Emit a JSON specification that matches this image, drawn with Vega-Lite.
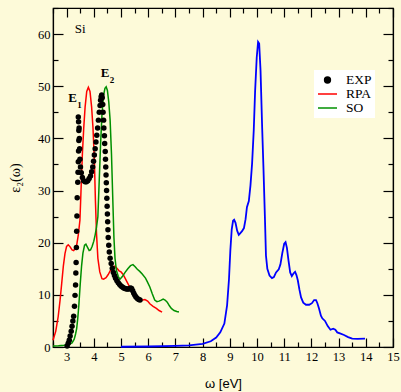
{
  "$schema": "https://vega.github.io/schema/vega-lite/v6.json",
  "width": 340,
  "height": 339,
  "autosize": {"type": "none"},
  "padding": {"left": 53, "top": 8, "right": 8, "bottom": 45},
  "background": "#fdfad9",
  "config": {
    "view": {"stroke": "black", "strokeWidth": 1.2, "fill": "#fdfad9"},
    "axis": {
      "domainColor": "black", "domainWidth": 1.2, "tickColor": "black", "tickWidth": 1.2,
      "labelColor": "black", "titleColor": "black", "grid": false,
      "labelFont": "Liberation Serif", "labelFontSize": 12.5, "titleFontWeight": "normal"
    }
  },
  "datasets": {
    "blue": [
      {"x": 5.0, "y": 0.05}, {"x": 6.0, "y": 0.1}, {"x": 7.0, "y": 0.2}, {"x": 7.5, "y": 0.3}, {"x": 8.0, "y": 0.6},
      {"x": 8.3, "y": 1.1}, {"x": 8.5, "y": 1.8}, {"x": 8.65, "y": 2.8}, {"x": 8.8, "y": 4.5}, {"x": 8.9, "y": 8},
      {"x": 8.97, "y": 13}, {"x": 9.02, "y": 18.5}, {"x": 9.07, "y": 22.5}, {"x": 9.12, "y": 24.2}, {"x": 9.16, "y": 24.4},
      {"x": 9.21, "y": 23.8}, {"x": 9.27, "y": 22.3}, {"x": 9.33, "y": 21.5}, {"x": 9.38, "y": 21.8}, {"x": 9.45, "y": 22.2},
      {"x": 9.52, "y": 22.8}, {"x": 9.58, "y": 24.5}, {"x": 9.63, "y": 26.8}, {"x": 9.7, "y": 28.0}, {"x": 9.76, "y": 31},
      {"x": 9.82, "y": 35.2}, {"x": 9.88, "y": 41.5}, {"x": 9.93, "y": 49}, {"x": 9.99, "y": 55.5}, {"x": 10.04, "y": 58.5},
      {"x": 10.08, "y": 58.2}, {"x": 10.13, "y": 53}, {"x": 10.19, "y": 42}, {"x": 10.24, "y": 33.9}, {"x": 10.29, "y": 25},
      {"x": 10.33, "y": 17.5}, {"x": 10.38, "y": 15}, {"x": 10.46, "y": 13.7}, {"x": 10.55, "y": 13.2}, {"x": 10.62, "y": 13.4},
      {"x": 10.7, "y": 14.3}, {"x": 10.8, "y": 14.9}, {"x": 10.86, "y": 15.8}, {"x": 10.93, "y": 18}, {"x": 11.0, "y": 19.8},
      {"x": 11.05, "y": 20.1}, {"x": 11.1, "y": 19}, {"x": 11.16, "y": 16.5}, {"x": 11.22, "y": 14.3}, {"x": 11.28, "y": 13.6},
      {"x": 11.34, "y": 14.1}, {"x": 11.4, "y": 14.4}, {"x": 11.45, "y": 13.8}, {"x": 11.5, "y": 12.8}, {"x": 11.56, "y": 11.0},
      {"x": 11.62, "y": 9.5}, {"x": 11.7, "y": 8.5}, {"x": 11.8, "y": 8.1}, {"x": 11.92, "y": 8.1}, {"x": 12.02, "y": 8.4},
      {"x": 12.1, "y": 9.0}, {"x": 12.17, "y": 9.0}, {"x": 12.22, "y": 8.4}, {"x": 12.28, "y": 7.4}, {"x": 12.35, "y": 6.0},
      {"x": 12.4, "y": 5.5}, {"x": 12.5, "y": 5.0}, {"x": 12.6, "y": 4.0}, {"x": 12.7, "y": 3.3}, {"x": 12.8, "y": 3.5},
      {"x": 12.88, "y": 3.3}, {"x": 12.95, "y": 2.8}, {"x": 13.05, "y": 2.6}, {"x": 13.2, "y": 2.3}, {"x": 13.35, "y": 1.9},
      {"x": 13.5, "y": 1.6}, {"x": 13.7, "y": 1.55}, {"x": 13.97, "y": 1.6}
    ],
    "theory": [
      {"series": "RPA", "x": 2.5, "y": 1.3}, {"series": "RPA", "x": 2.6, "y": 3}, {"series": "RPA", "x": 2.69, "y": 5.8},
      {"series": "RPA", "x": 2.76, "y": 9}, {"series": "RPA", "x": 2.82, "y": 12.2}, {"series": "RPA", "x": 2.88, "y": 15.5},
      {"series": "RPA", "x": 2.94, "y": 17.9}, {"series": "RPA", "x": 3.0, "y": 19.3}, {"series": "RPA", "x": 3.06, "y": 19.6},
      {"series": "RPA", "x": 3.13, "y": 19.2}, {"series": "RPA", "x": 3.2, "y": 18.6}, {"series": "RPA", "x": 3.26, "y": 18.5},
      {"series": "RPA", "x": 3.32, "y": 18.9}, {"series": "RPA", "x": 3.37, "y": 19.5}, {"series": "RPA", "x": 3.43, "y": 21.5},
      {"series": "RPA", "x": 3.49, "y": 24.3}, {"series": "RPA", "x": 3.53, "y": 30}, {"series": "RPA", "x": 3.58, "y": 37},
      {"series": "RPA", "x": 3.63, "y": 42}, {"series": "RPA", "x": 3.68, "y": 46}, {"series": "RPA", "x": 3.74, "y": 49},
      {"series": "RPA", "x": 3.8, "y": 49.8}, {"series": "RPA", "x": 3.86, "y": 49}, {"series": "RPA", "x": 3.92, "y": 46},
      {"series": "RPA", "x": 3.97, "y": 42}, {"series": "RPA", "x": 4.02, "y": 36}, {"series": "RPA", "x": 4.06, "y": 28},
      {"series": "RPA", "x": 4.1, "y": 21.7}, {"series": "RPA", "x": 4.15, "y": 17}, {"series": "RPA", "x": 4.22, "y": 14.4},
      {"series": "RPA", "x": 4.3, "y": 13.1}, {"series": "RPA", "x": 4.36, "y": 13}, {"series": "RPA", "x": 4.45, "y": 13.3},
      {"series": "RPA", "x": 4.53, "y": 13.9}, {"series": "RPA", "x": 4.62, "y": 14.8}, {"series": "RPA", "x": 4.7, "y": 15.3},
      {"series": "RPA", "x": 4.77, "y": 15.5}, {"series": "RPA", "x": 4.85, "y": 15.1}, {"series": "RPA", "x": 4.93, "y": 14.6},
      {"series": "RPA", "x": 5.0, "y": 14.4}, {"series": "RPA", "x": 5.08, "y": 13.9}, {"series": "RPA", "x": 5.14, "y": 13.3},
      {"series": "RPA", "x": 5.23, "y": 12.4}, {"series": "RPA", "x": 5.32, "y": 11.5}, {"series": "RPA", "x": 5.4, "y": 10.5},
      {"series": "RPA", "x": 5.5, "y": 9.6}, {"series": "RPA", "x": 5.6, "y": 9.0}, {"series": "RPA", "x": 5.69, "y": 8.9},
      {"series": "RPA", "x": 5.8, "y": 9.0}, {"series": "RPA", "x": 5.88, "y": 9.1}, {"series": "RPA", "x": 5.98, "y": 8.8},
      {"series": "RPA", "x": 6.06, "y": 8.3}, {"series": "RPA", "x": 6.18, "y": 7.8}, {"series": "RPA", "x": 6.3, "y": 7.4},
      {"series": "RPA", "x": 6.4, "y": 7.0}, {"series": "RPA", "x": 6.51, "y": 6.7},
      {"series": "SO", "x": 2.5, "y": 0.2}, {"series": "SO", "x": 2.7, "y": 0.25}, {"series": "SO", "x": 2.9, "y": 0.35},
      {"series": "SO", "x": 3.1, "y": 0.5}, {"series": "SO", "x": 3.2, "y": 0.8}, {"series": "SO", "x": 3.28, "y": 1.5},
      {"series": "SO", "x": 3.33, "y": 2.5}, {"series": "SO", "x": 3.37, "y": 3.5}, {"series": "SO", "x": 3.41, "y": 5.5},
      {"series": "SO", "x": 3.45, "y": 8}, {"series": "SO", "x": 3.5, "y": 12}, {"series": "SO", "x": 3.55, "y": 15.5},
      {"series": "SO", "x": 3.6, "y": 18}, {"series": "SO", "x": 3.66, "y": 19.5}, {"series": "SO", "x": 3.71, "y": 19.7},
      {"series": "SO", "x": 3.77, "y": 19.1}, {"series": "SO", "x": 3.83, "y": 18.5}, {"series": "SO", "x": 3.88, "y": 18.6},
      {"series": "SO", "x": 3.94, "y": 19.3}, {"series": "SO", "x": 4.0, "y": 20.3}, {"series": "SO", "x": 4.05, "y": 21.5},
      {"series": "SO", "x": 4.1, "y": 23}, {"series": "SO", "x": 4.15, "y": 25}, {"series": "SO", "x": 4.2, "y": 32},
      {"series": "SO", "x": 4.25, "y": 39}, {"series": "SO", "x": 4.3, "y": 44.5}, {"series": "SO", "x": 4.35, "y": 48},
      {"series": "SO", "x": 4.41, "y": 49.6}, {"series": "SO", "x": 4.455, "y": 49.9}, {"series": "SO", "x": 4.5, "y": 49.2},
      {"series": "SO", "x": 4.55, "y": 47}, {"series": "SO", "x": 4.6, "y": 43.5}, {"series": "SO", "x": 4.65, "y": 37},
      {"series": "SO", "x": 4.7, "y": 28}, {"series": "SO", "x": 4.74, "y": 21}, {"series": "SO", "x": 4.78, "y": 17},
      {"series": "SO", "x": 4.83, "y": 14.7}, {"series": "SO", "x": 4.9, "y": 13.5}, {"series": "SO", "x": 4.96, "y": 13},
      {"series": "SO", "x": 5.05, "y": 13.5}, {"series": "SO", "x": 5.15, "y": 14.3}, {"series": "SO", "x": 5.25, "y": 15},
      {"series": "SO", "x": 5.35, "y": 15.6}, {"series": "SO", "x": 5.44, "y": 15.8}, {"series": "SO", "x": 5.52, "y": 15.4},
      {"series": "SO", "x": 5.6, "y": 14.9}, {"series": "SO", "x": 5.69, "y": 14.5}, {"series": "SO", "x": 5.78, "y": 14},
      {"series": "SO", "x": 5.9, "y": 13.2}, {"series": "SO", "x": 5.97, "y": 12.5}, {"series": "SO", "x": 6.06, "y": 11.5},
      {"series": "SO", "x": 6.15, "y": 10.2}, {"series": "SO", "x": 6.24, "y": 9.0}, {"series": "SO", "x": 6.32, "y": 8.7},
      {"series": "SO", "x": 6.4, "y": 8.8}, {"series": "SO", "x": 6.48, "y": 9.0}, {"series": "SO", "x": 6.55, "y": 9.2},
      {"series": "SO", "x": 6.62, "y": 9.0}, {"series": "SO", "x": 6.7, "y": 8.6}, {"series": "SO", "x": 6.78, "y": 7.9},
      {"series": "SO", "x": 6.85, "y": 7.4}, {"series": "SO", "x": 6.95, "y": 7.0}, {"series": "SO", "x": 7.05, "y": 6.8},
      {"series": "SO", "x": 7.13, "y": 6.7}
    ],
    "exp": [
      {"series": "EXP", "x": 3.02, "y": 0.2}, {"series": "EXP", "x": 3.06, "y": 0.7}, {"series": "EXP", "x": 3.1, "y": 1.3},
      {"series": "EXP", "x": 3.13, "y": 2.1}, {"series": "EXP", "x": 3.17, "y": 3.0}, {"series": "EXP", "x": 3.2, "y": 4.0},
      {"series": "EXP", "x": 3.23, "y": 5.0}, {"series": "EXP", "x": 3.26, "y": 5.9}, {"series": "EXP", "x": 3.29, "y": 7.8},
      {"series": "EXP", "x": 3.31, "y": 9.9}, {"series": "EXP", "x": 3.33, "y": 11.9}, {"series": "EXP", "x": 3.34, "y": 14.2},
      {"series": "EXP", "x": 3.35, "y": 16.2}, {"series": "EXP", "x": 3.36, "y": 19.1}, {"series": "EXP", "x": 3.37, "y": 22.2},
      {"series": "EXP", "x": 3.38, "y": 25.1}, {"series": "EXP", "x": 3.39, "y": 28.6}, {"series": "EXP", "x": 3.41, "y": 31.6},
      {"series": "EXP", "x": 3.42, "y": 33.5}, {"series": "EXP", "x": 3.43, "y": 35.5}, {"series": "EXP", "x": 3.44, "y": 37.6},
      {"series": "EXP", "x": 3.45, "y": 39.6}, {"series": "EXP", "x": 3.45, "y": 41.5}, {"series": "EXP", "x": 3.44, "y": 43.2},
      {"series": "EXP", "x": 3.43, "y": 44.1}, {"series": "EXP", "x": 3.46, "y": 42}, {"series": "EXP", "x": 3.47, "y": 40},
      {"series": "EXP", "x": 3.48, "y": 38}, {"series": "EXP", "x": 3.49, "y": 36}, {"series": "EXP", "x": 3.51, "y": 34.5},
      {"series": "EXP", "x": 3.54, "y": 33.4}, {"series": "EXP", "x": 3.58, "y": 32.5}, {"series": "EXP", "x": 3.63, "y": 31.9},
      {"series": "EXP", "x": 3.68, "y": 31.7}, {"series": "EXP", "x": 3.73, "y": 31.7}, {"series": "EXP", "x": 3.78, "y": 31.9},
      {"series": "EXP", "x": 3.83, "y": 32.3}, {"series": "EXP", "x": 3.88, "y": 32.8}, {"series": "EXP", "x": 3.92, "y": 33.6},
      {"series": "EXP", "x": 3.96, "y": 34.5}, {"series": "EXP", "x": 3.99, "y": 35.6}, {"series": "EXP", "x": 4.02, "y": 36.8},
      {"series": "EXP", "x": 4.05, "y": 38.0}, {"series": "EXP", "x": 4.08, "y": 39.3}, {"series": "EXP", "x": 4.11, "y": 40.6},
      {"series": "EXP", "x": 4.14, "y": 42.0}, {"series": "EXP", "x": 4.17, "y": 43.5}, {"series": "EXP", "x": 4.2, "y": 45.0},
      {"series": "EXP", "x": 4.23, "y": 46.3}, {"series": "EXP", "x": 4.25, "y": 47.3}, {"series": "EXP", "x": 4.27, "y": 48.0},
      {"series": "EXP", "x": 4.29, "y": 48.3}, {"series": "EXP", "x": 4.31, "y": 47.8}, {"series": "EXP", "x": 4.33, "y": 46.5},
      {"series": "EXP", "x": 4.34, "y": 45}, {"series": "EXP", "x": 4.36, "y": 43.5}, {"series": "EXP", "x": 4.37, "y": 42},
      {"series": "EXP", "x": 4.39, "y": 40.5}, {"series": "EXP", "x": 4.4, "y": 39}, {"series": "EXP", "x": 4.42, "y": 37.5},
      {"series": "EXP", "x": 4.43, "y": 36}, {"series": "EXP", "x": 4.44, "y": 34.5}, {"series": "EXP", "x": 4.45, "y": 33},
      {"series": "EXP", "x": 4.46, "y": 31.5}, {"series": "EXP", "x": 4.47, "y": 30}, {"series": "EXP", "x": 4.48, "y": 28.5},
      {"series": "EXP", "x": 4.49, "y": 27}, {"series": "EXP", "x": 4.5, "y": 25.5}, {"series": "EXP", "x": 4.51, "y": 24},
      {"series": "EXP", "x": 4.52, "y": 22.5}, {"series": "EXP", "x": 4.53, "y": 21}, {"series": "EXP", "x": 4.55, "y": 19.5},
      {"series": "EXP", "x": 4.57, "y": 18.2}, {"series": "EXP", "x": 4.6, "y": 17}, {"series": "EXP", "x": 4.64, "y": 16},
      {"series": "EXP", "x": 4.68, "y": 15.1}, {"series": "EXP", "x": 4.72, "y": 14.3}, {"series": "EXP", "x": 4.76, "y": 13.7},
      {"series": "EXP", "x": 4.8, "y": 13.2}, {"series": "EXP", "x": 4.85, "y": 12.7}, {"series": "EXP", "x": 4.9, "y": 12.3},
      {"series": "EXP", "x": 4.95, "y": 12.0}, {"series": "EXP", "x": 5.0, "y": 11.7}, {"series": "EXP", "x": 5.05, "y": 11.5},
      {"series": "EXP", "x": 5.1, "y": 11.3}, {"series": "EXP", "x": 5.15, "y": 11.2}, {"series": "EXP", "x": 5.2, "y": 11.1},
      {"series": "EXP", "x": 5.25, "y": 11.1}, {"series": "EXP", "x": 5.3, "y": 11.1}, {"series": "EXP", "x": 5.35, "y": 11.3},
      {"series": "EXP", "x": 5.39, "y": 11.2}, {"series": "EXP", "x": 5.43, "y": 10.8}, {"series": "EXP", "x": 5.47, "y": 10.3},
      {"series": "EXP", "x": 5.51, "y": 9.9}, {"series": "EXP", "x": 5.55, "y": 9.6}, {"series": "EXP", "x": 5.6, "y": 9.3},
      {"series": "EXP", "x": 5.65, "y": 9.1}, {"series": "EXP", "x": 5.7, "y": 9.0}
    ],
    "notes": [
      {"text": "E", "sub": "1", "x": 3.06, "y": 47},
      {"text": "E", "sub": "2", "x": 4.26, "y": 51.8}
    ],
    "si": [
      {"text": "Si", "x": 3.3, "y": 60.3}
    ]
  },
  "layer": [
    {
      "data": {"name": "blue"},
      "mark": {"type": "line", "color": "#0000ff", "strokeWidth": 1.8},
      "encoding": {
        "x": {
          "field": "x", "type": "quantitative",
          "scale": {"domain": [2.5, 15], "nice": false, "zero": false},
          "axis": {
            "orient": "bottom", "title": "ω [eV]", "titleFont": "Liberation Sans", "titleFontSize": 13,
            "values": [2.5, 3, 3.5, 4, 4.5, 5, 5.5, 6, 6.5, 7, 7.5, 8, 8.5, 9, 9.5, 10, 10.5, 11, 11.5, 12, 12.5, 13, 13.5, 14, 14.5, 15],
            "labelExpr": "datum.value % 1 === 0 ? format(datum.value, 'd') : ''",
            "tickSize": {"condition": {"test": "datum.value % 1 === 0", "value": -9}, "value": -5},
            "labelPadding": 12, "titlePadding": 11, "labelFlush": false, "labelOverlap": false
          }
        },
        "y": {
          "field": "y", "type": "quantitative",
          "scale": {"domain": [0, 65], "nice": false, "zero": false},
          "axis": {
            "orient": "left", "title": "ε₂(ω)", "titleFont": "Liberation Serif", "titleFontSize": 14,
            "values": [0, 5, 10, 15, 20, 25, 30, 35, 40, 45, 50, 55, 60, 65],
            "labelExpr": "datum.value % 10 === 0 ? format(datum.value, 'd') : ''",
            "tickSize": {"condition": {"test": "datum.value % 10 === 0", "value": -10}, "value": -5},
            "labelPadding": 13, "titlePadding": 15, "labelFlush": false, "labelOverlap": false
          }
        }
      }
    },
    {
      "data": {"name": "theory"},
      "mark": {"type": "line", "strokeWidth": 1.5},
      "encoding": {
        "x": {
          "field": "x", "type": "quantitative",
          "scale": {"domain": [2.5, 15], "nice": false, "zero": false},
          "axis": {
            "orient": "top", "title": null, "labels": false,
            "values": [2.5, 3, 3.5, 4, 4.5, 5, 5.5, 6, 6.5, 7, 7.5, 8, 8.5, 9, 9.5, 10, 10.5, 11, 11.5, 12, 12.5, 13, 13.5, 14, 14.5, 15],
            "tickSize": {"condition": {"test": "datum.value % 1 === 0", "value": -9}, "value": -5}
          }
        },
        "y": {
          "field": "y", "type": "quantitative",
          "scale": {"domain": [0, 65], "nice": false, "zero": false},
          "axis": {
            "orient": "right", "title": null, "labels": false,
            "values": [0, 5, 10, 15, 20, 25, 30, 35, 40, 45, 50, 55, 60, 65],
            "tickSize": {"condition": {"test": "datum.value % 10 === 0", "value": -10}, "value": -5}
          }
        },
        "color": {
          "field": "series", "type": "nominal",
          "scale": {"domain": ["EXP", "RPA", "SO"], "range": ["#000000", "#ff0000", "#009000"]},
          "legend": {
            "orient": "none", "legendX": 261, "legendY": 62, "title": null,
            "fillColor": "#ffffff", "padding": 3, "clipHeight": 14, "rowPadding": 0,
            "labelFont": "Liberation Serif", "labelFontSize": 13.5, "labelColor": "#000000",
            "symbolType": "stroke", "symbolSize": 361, "symbolStrokeWidth": 1.5, "labelOffset": 8,
            "encode": {
              "symbols": {
                "update": {
                  "shape": {"signal": "datum.value === 'EXP' ? 'circle' : 'stroke'"},
                  "size": {"signal": "datum.value === 'EXP' ? 34 : 361"},
                  "fill": {"signal": "datum.value === 'EXP' ? '#000000' : 'transparent'"},
                  "stroke": {"signal": "datum.value === 'EXP' ? 'transparent' : (datum.value === 'RPA' ? '#ff0000' : '#009000')"},
                  "strokeWidth": {"value": 1.5},
                  "opacity": {"value": 1}
                }
              }
            }
          }
        }
      }
    },
    {
      "data": {"name": "exp"},
      "mark": {"type": "point", "filled": true, "size": 30, "opacity": 1},
      "encoding": {
        "x": {"field": "x", "type": "quantitative", "axis": null},
        "y": {"field": "y", "type": "quantitative", "axis": null},
        "color": {"field": "series", "type": "nominal"}
      }
    },
    {
      "data": {"name": "notes"},
      "mark": {"type": "text", "font": "Liberation Serif", "fontSize": 13, "fontWeight": "bold", "align": "left", "baseline": "alphabetic", "color": "#000000"},
      "encoding": {
        "x": {"field": "x", "type": "quantitative", "axis": null},
        "y": {"field": "y", "type": "quantitative", "axis": null},
        "text": {"field": "text"}
      }
    },
    {
      "data": {"name": "notes"},
      "mark": {"type": "text", "font": "Liberation Serif", "fontSize": 9, "fontWeight": "bold", "align": "left", "baseline": "alphabetic", "dx": 9, "dy": 6, "color": "#000000"},
      "encoding": {
        "x": {"field": "x", "type": "quantitative", "axis": null},
        "y": {"field": "y", "type": "quantitative", "axis": null},
        "text": {"field": "sub"}
      }
    },
    {
      "data": {"name": "si"},
      "mark": {"type": "text", "font": "Liberation Serif", "fontSize": 13, "align": "left", "baseline": "alphabetic", "color": "#000000"},
      "encoding": {
        "x": {"field": "x", "type": "quantitative", "axis": null},
        "y": {"field": "y", "type": "quantitative", "axis": null},
        "text": {"field": "text"}
      }
    }
  ],
  "resolve": {"axis": {"x": "independent", "y": "independent"}}
}
